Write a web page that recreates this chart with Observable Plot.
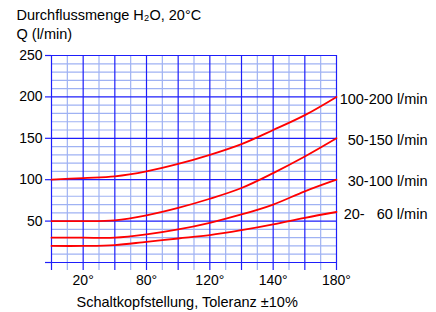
<!DOCTYPE html>
<html>
<head>
<meta charset="utf-8">
<script src="https://cdn.jsdelivr.net/npm/d3@7"></script>
<script src="https://cdn.jsdelivr.net/npm/@observablehq/plot@0.6"></script>
<style>
  html, body { margin: 0; padding: 0; background: #fff; }
  #chart svg { display: block; }
</style>
</head>
<body>
<div id="chart"></div>
<script>
// ---- data ----
const angles   = [0, 20, 40, 60, 80, 100, 120, 140, 160, 180];
const q100_200 = [100, 102, 104, 110, 119, 130, 143, 160, 178, 200];
const q50_150  = [50, 50, 51, 57, 66, 77, 90, 108, 128, 150];
const q30_100  = [30, 30, 30, 34, 40, 48, 58, 70, 86, 100];
const q20_60   = [20, 20, 21, 25, 29, 33, 39, 46, 54, 61];
const seriesNames = ["100-200 l/min", "50-150 l/min", "30-100 l/min", "20-\u00a0\u00a0 60 l/min"];
const seriesValues = [q100_200, q50_150, q30_100, q20_60];

const xTickPos = [20, 60, 100, 140, 180];
const xTickLabels = ["20°", "80°", "120°", "140°", "180°"];
const yTickValues = [0, 50, 100, 150, 200, 250];
const xMinorGrid = [10, 30, 50, 70, 90, 110, 130, 150, 170];
const xMajorGrid = [0, 20, 40, 60, 80, 100, 120, 140, 160, 180];
const yMinorGrid = [10, 20, 30, 40, 60, 70, 80, 90, 110, 120, 130, 140, 160, 170, 180, 190, 210, 220, 230, 240];

const titleLine1 = "Durchflussmenge H\u2082O, 20°C";
const titleLine2 = "Q (l/min)";
const xTitle = "Schaltkopfstellung, Toleranz ±10%";

// ---- build tables ----
const rows = [];
seriesNames.forEach((name, s) => {
  angles.forEach((a, i) => rows.push({series: name, angle: a, q: seriesValues[s][i]}));
});
const endLabels = seriesNames.map((name, s) => ({
  name, angle: angles[angles.length - 1], q: seriesValues[s][seriesValues[s].length - 1]
}));

const major = "#1e1efa";
const minor = "#9fb2f3";

const chart = Plot.plot({
  width: 436,
  height: 312,
  marginLeft: 51,
  marginRight: 100,
  marginTop: 55,
  marginBottom: 50,
  x: {domain: [0, 180]},
  y: {domain: [0, 250]},
  style: {fontFamily: "'Liberation Sans', Arial, sans-serif", fontSize: "14px", background: "#fff", color: "#000"},
  marks: [
    Plot.ruleY(yMinorGrid, {stroke: minor, strokeWidth: 1.2}),
    Plot.ruleX(xMinorGrid, {stroke: minor, strokeWidth: 1.2}),
    Plot.axisX(xMinorGrid, {tickSize: 8, stroke: minor, strokeWidth: 1.2, tickFormat: () => "", label: null}),
    Plot.ruleY(yTickValues, {stroke: major, strokeWidth: 1.2}),
    Plot.ruleX(xMajorGrid, {stroke: major, strokeWidth: 1.2}),
    Plot.axisX(xMajorGrid, {tickSize: 8, stroke: major, strokeWidth: 1.2, tickFormat: () => "", label: null}),
    Plot.axisY(yTickValues, {tickSize: 6, tickPadding: 3, stroke: major, strokeWidth: 1.2, fill: "#000",
      tickFormat: d => d === 0 ? "" : String(d), label: null, fontSize: 14}),
    Plot.axisX(xTickPos, {tickSize: 0, tickPadding: 13, fill: "#000",
      tickFormat: d => xTickLabels[xTickPos.indexOf(d)], label: null, fontSize: 14}),
    Plot.line(rows, {x: "angle", y: "q", z: "series", stroke: "#ff0000", strokeWidth: 1.8, curve: "catmull-rom"}),
    Plot.text(endLabels, {x: "angle", y: "q", text: "name", textAnchor: "end", lineAnchor: "middle", dx: 91, dy: 2, fontSize: 14.5, fill: "#000"}),
    Plot.text([titleLine1], {frameAnchor: "top-left", text: d => d, textAnchor: "start", lineAnchor: "middle", dx: -35, dy: -40, fontSize: 14.5, fill: "#000"}),
    Plot.text([titleLine2], {frameAnchor: "top-left", text: d => d, textAnchor: "start", lineAnchor: "middle", dx: -35, dy: -21.5, fontSize: 14.5, fill: "#000"}),
    Plot.text([xTitle], {frameAnchor: "bottom-left", text: d => d, textAnchor: "start", lineAnchor: "middle", dx: 25, dy: 40, fontSize: 14.5, fill: "#000"})
  ]
});
document.getElementById("chart").appendChild(chart);
</script>
</body>
</html>
